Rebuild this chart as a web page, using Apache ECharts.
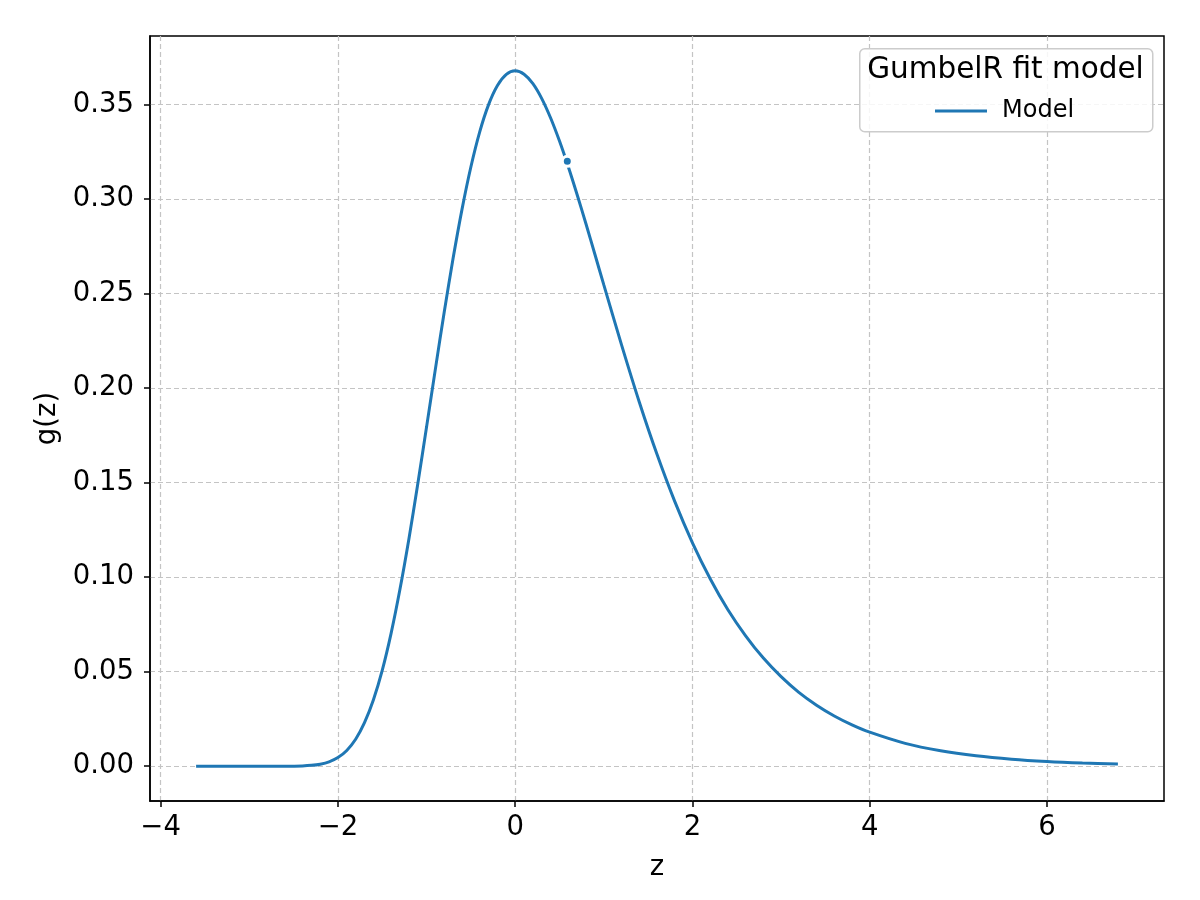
<!DOCTYPE html>
<html>
<head>
<meta charset="utf-8">
<script src="https://cdn.jsdelivr.net/npm/echarts@6/dist/echarts.min.js"></script>
<style>html,body{margin:0;padding:0;background:#fff}#c{width:1200px;height:900px}</style>
</head>
<body>
<div id="c"></div>
<script>
const zValues = [-3.6,-3.2,-3.0,-2.8,-2.6,-2.4,-2.3,-2.2,-2.1,-2.0,-1.9,-1.8,-1.7,-1.6,-1.5,-1.4,-1.3,-1.2,-1.1,-1.0,-0.9,-0.8,-0.7,-0.6,-0.5,-0.4,-0.3,-0.2,-0.1,0.0,0.1,0.2,0.3,0.4,0.5,0.6,0.7,0.8,0.9,1.0,1.2,1.4,1.6,1.8,2.0,2.2,2.4,2.6,2.8,3.0,3.2,3.4,3.6,3.8,4.0,4.4,4.8,5.2,5.6,6.0,6.4,6.8];
const gValues = [0,0,0,0.000001,0.00002,0.00018,0.00046,0.00109,0.00232,0.00457,0.00835,0.01426,0.0230,0.0350,0.0507,0.0703,0.0936,0.1200,0.1490,0.1794,0.2102,0.2404,0.2688,0.2946,0.3170,0.3356,0.3500,0.3601,0.3660,0.3679,0.3661,0.3611,0.3532,0.3429,0.3307,0.3170,0.3022,0.2867,0.2707,0.2546,0.2229,0.1927,0.1650,0.1401,0.1182,0.0992,0.0828,0.0690,0.0572,0.0474,0.0391,0.0323,0.0266,0.0219,0.0180,0.0121,0.00817,0.00549,0.00368,0.00247,0.00166,0.00111];
const markerPoint = [0.588, 0.320];
const xTicks = [-4, -2, 0, 2, 4, 6];
const yTicks = [0, 0.05, 0.10, 0.15, 0.20, 0.25, 0.30, 0.35];
const legendTitle = 'GumbelR fit model';
const seriesName = 'Model';

const FONT = 'DejaVu Sans';
const lineData = zValues.map((z, i) => [z, gValues[i]]);
const fmtMinus = s => s.replace('-', '\u2212');

const chart = echarts.init(document.getElementById('c'), null, {renderer: 'canvas'});
chart.setOption({
  animation: false,
  backgroundColor: '#fff',
  grid: {left: 150, right: 36, top: 36, bottom: 99, show: true, borderColor: '#000', borderWidth: 1.5, backgroundColor: 'transparent'},
  xAxis: {
    type: 'value', min: -4.12, max: 7.32,
    name: 'z', nameLocation: 'middle', nameGap: 53,
    nameTextStyle: {fontFamily: FONT, fontSize: 27.5, color: '#000'},
    axisLine: {show: true, onZero: false, lineStyle: {color: '#000', width: 1.5}},
    axisTick: {show: true, customValues: xTicks, length: 6, lineStyle: {color: '#000', width: 1.5}},
    axisLabel: {customValues: xTicks, margin: 13, fontFamily: FONT, fontSize: 27.5, color: '#000',
      formatter: v => fmtMinus(String(Math.round(v)))},
    splitLine: {show: true, lineStyle: {color: '#c4c4c4', type: [5, 3], width: 1.2}}
  },
  yAxis: {
    type: 'value', min: -0.0184, max: 0.3863,
    name: 'g(z)', nameLocation: 'middle', nameGap: 88, nameRotate: 90,
    nameTextStyle: {fontFamily: FONT, fontSize: 27.5, color: '#000'},
    axisLine: {show: true, onZero: false, lineStyle: {color: '#000', width: 1.5}},
    axisTick: {show: true, customValues: yTicks, length: 6, lineStyle: {color: '#000', width: 1.5}},
    axisLabel: {customValues: yTicks, margin: 16, fontFamily: FONT, fontSize: 27.5, color: '#000',
      formatter: v => v.toFixed(2)},
    splitLine: {show: true, lineStyle: {color: '#c4c4c4', type: [5, 3], width: 1.2}}
  },
  legend: {
    data: [{name: seriesName, icon: 'rect'}], left: 930, top: 94, z: 60,
    itemWidth: 52, itemHeight: 3, itemGap: 10,
    itemStyle: {color: '#1f77b4'},
    textStyle: {fontFamily: FONT, fontSize: 24, color: '#000', padding: [0, 0, 0, 10]},
    selectedMode: false
  },
  graphic: [
    {type: 'rect', left: 859, top: 48, z: 50, shape: {width: 293, height: 83, r: 5},
      style: {fill: 'rgba(255,255,255,0.85)', stroke: '#cccccc', lineWidth: 1.5}},
    {type: 'text', x: 1005.5, y: 70, z: 51,
      style: {text: legendTitle, fontFamily: FONT, fontSize: 29.5, fill: '#000', align: 'center', verticalAlign: 'middle'}}
  ],
  series: [
    {name: seriesName, type: 'line', data: lineData, symbol: 'none', showSymbol: false, smooth: 0.3,
      lineStyle: {color: '#1f77b4', width: 3}, itemStyle: {color: '#1f77b4'}, z: 3},
    {name: 'marker', type: 'scatter', data: [markerPoint], symbol: 'circle', symbolSize: 10,
      itemStyle: {color: '#1f77b4', borderColor: '#fff', borderWidth: 3, opacity: 1}, z: 4}
  ]
});
</script>
</body>
</html>
